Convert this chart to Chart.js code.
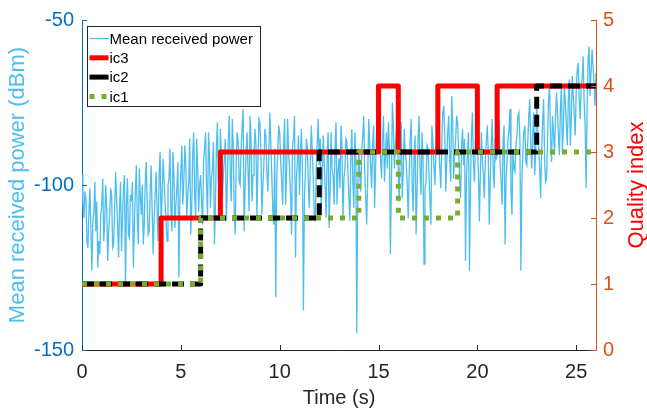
<!DOCTYPE html>
<html>
<head>
<meta charset="utf-8">
<script src="https://cdn.jsdelivr.net/npm/chart.js@4/dist/chart.umd.min.js"></script>
<style>
  body { margin: 0; background: #fff; }
  canvas { display: block; }
</style>
</head>
<body>
<canvas id="qualityChart" width="647" height="409"></canvas>
<script>
'use strict';

// received power, one sample every 0.05 s from 0 to 26 s (two rows per second)
const sampleStep = 0.05;
const powerDbm = [
  -97, -106, -110, -102, -104, -117, -119, -108, -101, -113,
  -126, -111, -108, -99, -114, -105, -125, -117, -121, -109,
  -106, -98, -117, -111, -100, -107, -123, -114, -109, -101,
  -103, -119, -118, -108, -96, -104, -112, -122, -107, -99,
  -120, -110, -101, -97, -131, -106, -98, -115, -116, -103,
  -105, -99, -125, -112, -102, -94, -111, -118, -95, -104,
  -109, -100, -118, -112, -99, -93, -106, -115, -114, -102,
  -94, -108, -121, -110, -103, -96, -108, -117, -97, -90,
  -112, -104, -92, -98, -105, -111, -117, -100, -98, -89,
  -108, -114, -90, -97, -113, -106, -101, -93, -128, -105,
  -96, -88, -106, -99, -88, -94, -110, -103, -99, -86,
  -115, -107, -91, -84, -103, -110, -86, -95, -108, -100,
  -97, -105, -112, -93, -89, -84, -101, -109, -84, -92,
  -107, -98, -95, -87, -118, -106, -88, -81, -99, -104,
  -83, -91, -104, -97, -92, -86, -111, -100, -86, -79,
  -97, -105, -80, -88, -108, -115, -93, -84, -87, -99,
  -100, -89, -82, -77, -114, -101, -90, -84, -96, -108,
  -79, -86, -105, -97, -91, -83, -88, -110, -93, -80,
  -81, -90, -109, -100, -94, -83, -85, -96, -102, -91,
  -78, -87, -97, -108, -112, -89, -134, -99, -90, -82,
  -84, -93, -99, -106, -88, -80, -106, -96, -80, -90,
  -95, -103, -115, -88, -86, -79, -122, -98, -92, -85,
  -103, -91, -83, -95, -138, -104, -96, -86, -89, -100,
  -107, -93, -82, -90, -98, -109, -111, -95, -87, -80,
  -94, -86, -108, -99, -85, -92, -101, -110, -90, -84,
  -113, -102, -84, -95, -97, -106, -88, -81, -106, -96,
  -92, -101, -82, -88, -110, -98, -95, -86, -87, -96,
  -104, -111, -91, -83, -99, -107, -84, -92, -145, -100,
  -89, -97, -102, -90, -85, -79, -96, -104, -112, -99,
  -80, -87, -94, -101, -88, -82, -107, -95, -83, -78,
  -78, -86, -92, -98, -86, -79, -99, -91, -84, -95,
  -81, -89, -121, -100, -75, -82, -95, -88, -84, -77,
  -97, -105, -88, -81, -104, -96, -83, -90, -93, -100,
  -110, -97, -87, -80, -100, -108, -91, -85, -115, -102,
  -86, -79, -96, -103, -84, -92, -124, -101, -99, -88,
  -89, -97, -105, -112, -82, -87, -94, -100, -90, -83,
  -80, -88, -95, -101, -87, -78, -76, -84, -102, -93,
  -84, -79, -92, -99, -73, -81, -98, -90, -86, -79,
  -81, -90, -98, -104, -88, -83, -94, -86, -123, -97,
  -90, -84, -126, -101, -85, -78, -93, -99, -87, -82,
  -89, -95, -111, -97, -84, -92, -97, -104, -93, -87,
  -82, -90, -112, -99, -88, -80, -95, -101, -86, -92,
  -91, -84, -80, -93, -99, -106, -87, -82, -118, -98,
  -93, -86, -83, -77, -102, -109, -89, -95, -96, -88,
  -85, -79, -78, -86, -126, -99, -90, -84, -82, -93,
  -94, -87, -79, -74, -88, -95, -84, -78, -97, -89,
  -76, -83, -89, -95, -104, -90, -81, -74, -92, -99,
  -98, -86, -74, -70, -86, -93, -79, -84, -91, -80,
  -72, -78, -85, -91, -77, -70, -90, -83, -70, -75,
  -82, -88, -74, -68, -88, -80, -67, -73, -79, -85,
  -71, -65, -63, -74, -80, -70, -68, -61, -75, -82,
  -101, -77, -62, -58, -73, -66, -59, -64, -69, -76,
  -66
];

// quality index: switch times (s) and the level held from each time on
const ic3Times = [0, 4, 7, 15, 16, 18, 20, 21, 26];
const ic3Levels = [1, 2, 3, 4, 3, 4, 3, 4, 4];
const ic2Times = [0, 6, 12, 23, 26];
const ic2Levels = [1, 2, 3, 4, 4];
const ic1Times = [0, 6, 14, 16, 19, 26];
const ic1Levels = [1, 2, 3, 2, 3, 3];

const timeTicks = [0, 5, 10, 15, 20, 25];

const powerPoints = powerDbm.map((v, i) => ({ x: +(i * sampleStep).toFixed(2), y: v }));
function steps(times, levels) {
  return times.map((t, i) => ({ x: t, y: levels[i] }));
}

const fontFamily = '"Liberation Sans", Arial, Helvetica, sans-serif';
const axisDark = '#262626';

// MATLAB style tick marks pointing into the plot, plus the right title
const insideTicks = {
  id: 'insideTicks',
  afterDraw(chart) {
    const { ctx, chartArea: a, scales } = chart;
    ctx.save();
    ctx.lineWidth = 1;
    const len = 5;

    ctx.strokeStyle = axisDark;
    scales.x.ticks.forEach(t => {
      const px = Math.round(scales.x.getPixelForValue(t.value)) + 0.5;
      ctx.beginPath(); ctx.moveTo(px, a.bottom); ctx.lineTo(px, a.bottom - len); ctx.stroke();
    });

    ctx.strokeStyle = '#0072BD';
    scales.y.ticks.forEach(t => {
      const py = Math.round(scales.y.getPixelForValue(t.value)) + 0.5;
      ctx.beginPath(); ctx.moveTo(a.left, py); ctx.lineTo(a.left + len, py); ctx.stroke();
    });

    ctx.strokeStyle = '#D95319';
    scales.y1.ticks.forEach(t => {
      const py = Math.round(scales.y1.getPixelForValue(t.value)) + 0.5;
      ctx.beginPath(); ctx.moveTo(a.right, py); ctx.lineTo(a.right - len, py); ctx.stroke();
    });

    // right title reads bottom to top
    ctx.translate(637, (a.top + a.bottom) / 2);
    ctx.rotate(-Math.PI / 2);
    ctx.fillStyle = '#FF0000';
    ctx.font = '22px ' + fontFamily;
    ctx.textAlign = 'center';
    ctx.textBaseline = 'middle';
    ctx.fillText('Quality index', 0, 0);
    ctx.restore();
  }
};

// boxed legend in the upper left corner of the plot
const legendBox = {
  id: 'legendBox',
  afterDraw(chart) {
    const { ctx, chartArea: a } = chart;
    const x0 = a.left + 5.5, y0 = a.top + 6.5, w = 173, h = 80;
    ctx.save();
    ctx.fillStyle = '#fff';
    ctx.fillRect(x0, y0, w, h);
    ctx.strokeStyle = axisDark;
    ctx.lineWidth = 1;
    ctx.strokeRect(x0, y0, w, h);

    ctx.font = '15px ' + fontFamily;
    ctx.textBaseline = 'middle';
    ctx.fillStyle = '#000';
    chart.data.datasets.forEach((ds, i) => {
      const y = y0 + 12 + i * 19.3;
      ctx.save();
      ctx.strokeStyle = ds.borderColor;
      ctx.lineWidth = ds.borderWidth;
      ctx.setLineDash(ds.legendDash || []);
      ctx.beginPath();
      ctx.moveTo(x0 + 2, y);
      ctx.lineTo(x0 + 21, y);
      ctx.stroke();
      ctx.restore();
      ctx.fillText(ds.label, x0 + 22, y + 1);
    });
    ctx.restore();
  }
};

const ctx = document.getElementById('qualityChart').getContext('2d');
const qualityChart = new Chart(ctx, {
  type: 'line',
  data: {
    datasets: [
      {
        label: 'Mean received power',
        data: powerPoints,
        yAxisID: 'y',
        borderColor: '#4DBEEE',
        borderWidth: 1.3,
        pointRadius: 0,
        order: 4
      },
      {
        label: 'ic3',
        data: steps(ic3Times, ic3Levels),
        yAxisID: 'y1',
        stepped: true,
        borderColor: '#FF0000',
        borderWidth: 5,
        borderJoinStyle: 'round',
        pointRadius: 0,
        order: 3
      },
      {
        label: 'ic2',
        data: steps(ic2Times, ic2Levels),
        yAxisID: 'y1',
        stepped: true,
        borderColor: '#000000',
        borderWidth: 5,
        borderDash: [12, 6],
        legendDash: [],
        borderJoinStyle: 'round',
        pointRadius: 0,
        order: 2
      },
      {
        label: 'ic1',
        data: steps(ic1Times, ic1Levels),
        yAxisID: 'y1',
        stepped: true,
        borderColor: '#77AC30',
        borderWidth: 5,
        borderDash: [5, 7],
        legendDash: [5, 7],
        borderJoinStyle: 'round',
        pointRadius: 0,
        order: 1
      }
    ]
  },
  options: {
    responsive: false,
    animation: false,
    layout: { padding: { top: 15, left: 0, right: 0, bottom: 0 } },
    plugins: {
      legend: { display: false },
      tooltip: { enabled: false }
    },
    scales: {
      x: {
        type: 'linear',
        min: 0,
        max: 26,
        afterFit: s => { s.height = 59; },
        afterBuildTicks: s => { s.ticks = timeTicks.map(v => ({ value: v })); },
        grid: { display: false, drawTicks: false },
        border: { display: true, color: axisDark, width: 1 },
        ticks: {
          color: axisDark,
          font: { family: fontFamily, size: 20 },
          padding: 10,
          maxRotation: 0
        },
        title: {
          display: true,
          text: 'Time (s)',
          color: axisDark,
          font: { family: fontFamily, size: 20, lineHeight: 1 },
          padding: { top: 0, bottom: 1 }
        }
      },
      y: {
        position: 'left',
        min: -150,
        max: -50,
        afterFit: s => { s.width = 82; },
        grid: { display: false, drawTicks: false },
        border: { display: true, color: '#0072BD', width: 1 },
        ticks: {
          stepSize: 50,
          color: '#0072BD',
          font: { family: fontFamily, size: 20 },
          padding: 8
        },
        title: {
          display: true,
          text: 'Mean received power (dBm)',
          color: '#4DBEEE',
          font: { family: fontFamily, size: 22, lineHeight: 1 },
          padding: { top: 7, bottom: 0 }
        }
      },
      y1: {
        position: 'right',
        min: 0,
        max: 5,
        afterFit: s => { s.width = 51; },
        grid: { display: false, drawTicks: false },
        border: { display: true, color: '#D95319', width: 1 },
        ticks: {
          stepSize: 1,
          color: '#D95319',
          font: { family: fontFamily, size: 20 },
          padding: 7
        }
      }
    }
  },
  plugins: [insideTicks, legendBox]
});
</script>
</body>
</html>
